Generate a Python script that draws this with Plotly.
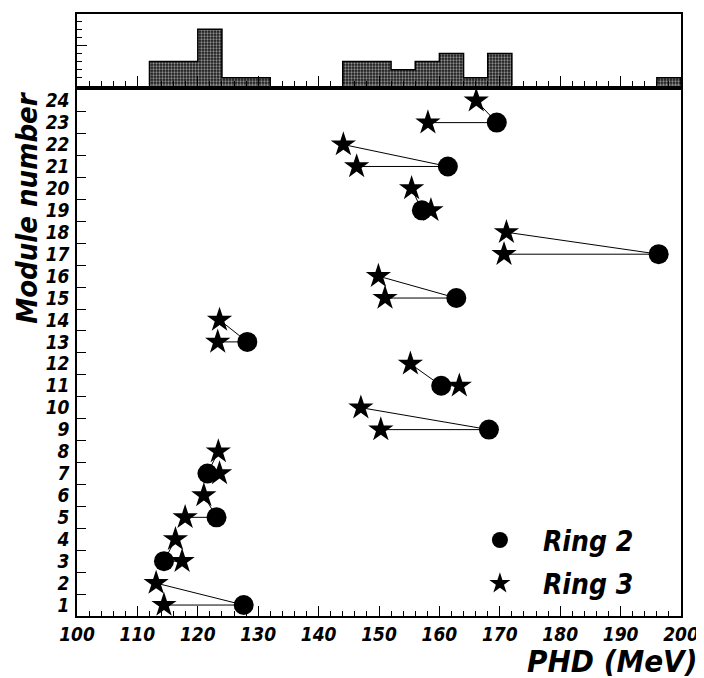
import numpy as np
import plotly.graph_objects as go

# ---- data ----
ring2_modules = [1, 3, 5, 7, 9, 11, 13, 15, 17, 19, 21, 23]
ring2_phd = [127.6, 114.4, 123.1, 121.6, 168.2, 160.3, 128.2, 162.8, 196.3, 157.1, 161.4, 169.5]

ring3_modules = list(range(1, 25))
ring3_phd = [114.4, 113.1, 117.4, 116.3, 117.9, 121.0, 123.6, 123.4, 150.3, 147.0,
             163.3, 155.2, 123.3, 123.6, 151.0, 149.9, 170.7, 171.1, 158.6, 155.4,
             146.3, 144.1, 158.1, 166.1]

y_tick_labels = [str(i) for i in range(1, 25)]
x_tick_values = list(range(100, 201, 10))
hist_bin_edges = list(range(100, 201, 4))

FONT = "DejaVu Sans Condensed, DejaVu Sans"

# connecting segments: star(m+1) -> circle(m) -> star(m)
r3 = dict(zip(ring3_modules, ring3_phd))
lx, ly = [], []
for m, v in zip(ring2_modules, ring2_phd):
    lx += [r3[m + 1], v, r3[m], None]
    ly += [m + 1, m, m, None]

all_phd = ring2_phd + ring3_phd
counts, edges = np.histogram(all_phd, bins=hist_bin_edges)
# outline of the histogram envelope (step line, no baseline segments)
sx, sy = [], []
prev = 0
for i, c in enumerate(counts):
    if c > 0 or prev > 0:
        sx += [edges[i], edges[i]]
        sy += [prev, c]
    if c > 0:
        sx += [edges[i + 1]]
        sy += [c]
    else:
        sx.append(None)
        sy.append(None)
    prev = c
if prev > 0:
    sx += [edges[-1]]
    sy += [0]

fig = go.Figure()
fig.add_trace(go.Scatter(x=lx, y=ly, mode="lines", line=dict(color="black", width=1),
                         showlegend=False, hoverinfo="skip"))
fig.add_trace(go.Scatter(x=ring2_phd, y=ring2_modules, mode="markers", name="Ring 2",
                         legendgroup="a",
                         marker=dict(symbol="circle", size=20, color="black")))
fig.add_trace(go.Scatter(x=ring3_phd, y=ring3_modules, mode="markers", name="Ring 3",
                         legendgroup="b",
                         marker=dict(symbol="star", size=19, color="black")))

fig.add_trace(go.Histogram(x=all_phd, xbins=dict(start=100, end=200, size=4),
                           xaxis="x2", yaxis="y2", showlegend=False,
                           marker=dict(color="#333333",
                                       line=dict(width=0),
                                       pattern=dict(shape=".", size=3, fgcolor="white",
                                                    bgcolor="#1a1a1a", solidity=0.45))))
fig.add_trace(go.Scatter(x=sx, y=sy, mode="lines", line=dict(color="black", width=1.5),
                         xaxis="x2", yaxis="y2", showlegend=False, hoverinfo="skip"))

tickfont = dict(family=FONT, size=19, color="black", weight="bold", style="italic")

common_x = dict(range=[100, 200], showline=True, linecolor="black", linewidth=1.5,
                mirror=True, ticks="inside", ticklen=10, tickwidth=1, tickcolor="black",
                tickmode="array", tickvals=x_tick_values,
                minor=dict(dtick=2, tick0=100, ticks="inside", ticklen=5, tickcolor="black"),
                showgrid=False, zeroline=False)

fig.update_layout(
    width=704, height=678,
    margin=dict(l=69, r=31, t=4, b=70),
    plot_bgcolor="white", paper_bgcolor="white",
    bargap=0,
    xaxis=dict(**common_x, domain=[0, 1], anchor="y", tickfont=tickfont,
               ticktext=[str(v) for v in x_tick_values], ticklabelstandoff=0),
    yaxis=dict(domain=[0, 0.8742], anchor="x", range=[0.5, 24.5],
               showline=True, linecolor="black", linewidth=1.5, mirror=True,
               tickmode="array", tickvals=ring3_modules, ticktext=y_tick_labels,
               ticks="", tickfont=tickfont, ticklabelstandoff=2,
               minor=dict(tickmode="array", tickvals=[i + 0.5 for i in range(1, 24)],
                          ticks="inside", ticklen=9, tickcolor="black"),
               showgrid=False, zeroline=False),
    xaxis2=dict(**common_x, domain=[0, 1], anchor="y2", showticklabels=False),
    yaxis2=dict(domain=[0.8808, 1], anchor="x2", range=[0, 8.9],
                showline=True, linecolor="black", linewidth=1.5, mirror=True,
                tickmode="array", tickvals=[5], ticks="inside", ticklen=10, tickcolor="black",
                showticklabels=False,
                minor=dict(dtick=1, tick0=0, ticks="inside", ticklen=5, tickcolor="black"),
                showgrid=False, zeroline=False),
    legend=dict(x=0.629, y=0.09, xanchor="left", yanchor="middle", itemwidth=76,
                font=dict(family=FONT, size=28, color="black", weight="bold", style="italic"),
                bgcolor="rgba(0,0,0,0)", traceorder="grouped", tracegroupgap=4),
    annotations=[
        dict(text="PHD (MeV)", xref="paper", yref="paper", x=1.03, y=-0.075,
             xanchor="right", yanchor="middle", showarrow=False,
             font=dict(family=FONT, size=31, color="black", weight="bold", style="italic")),
        dict(text="Module number", xref="paper", yref="paper", x=-0.052, y=0.8742,
             xanchor="right", yanchor="top", textangle=-90, showarrow=False,
             borderpad=0,
             font=dict(family=FONT, size=29, color="black", weight="bold", style="italic")),
    ],
)

fig.write_html("out.html")
